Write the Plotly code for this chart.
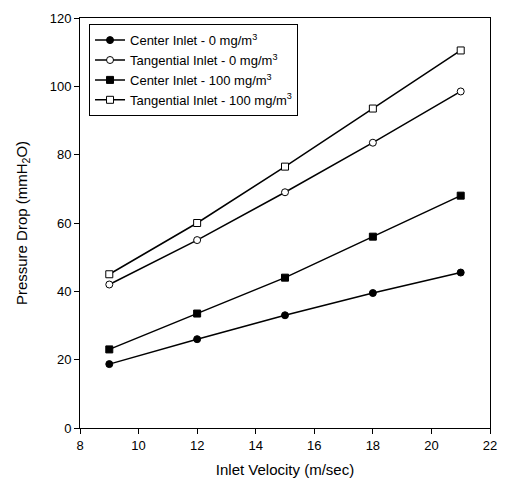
import plotly.graph_objects as go

velocity = [9, 12, 15, 18, 21]
center_0 = [18.7, 26, 33, 39.5, 45.5]
tangential_0 = [42, 55, 69, 83.5, 98.5]
center_100 = [23, 33.5, 44, 56, 68]
tangential_100 = [45, 60, 76.5, 93.5, 110.5]

names = ["Center Inlet - 0 mg/m<sup>3</sup>",
         "Tangential Inlet - 0 mg/m<sup>3</sup>",
         "Center Inlet - 100 mg/m<sup>3</sup>",
         "Tangential Inlet - 100 mg/m<sup>3</sup>"]
series = [center_0, tangential_0, center_100, tangential_100]
symbols = ["circle", "circle", "square", "square"]
fills = ["black", "white", "black", "white"]

fig = go.Figure()
for n, s, sym, fc in zip(names, series, symbols, fills):
    fig.add_trace(go.Scatter(
        x=velocity, y=s, name=n, mode="lines+markers",
        line=dict(color="black", width=1.5),
        marker=dict(symbol=sym, size=7, color=fc,
                    line=dict(color="black", width=1)),
    ))

fig.update_layout(
    width=508, height=493,
    margin=dict(l=80, r=12, t=11, b=65),
    paper_bgcolor="white", plot_bgcolor="white",
    font=dict(family="Liberation Sans, Arial, sans-serif", color="black", size=13),
    showlegend=True,
    legend=dict(x=0.022, y=0.985, xanchor="left", yanchor="top",
                bordercolor="black", borderwidth=1, bgcolor="white",
                font=dict(size=13), tracegroupgap=0, itemwidth=30),
    xaxis=dict(range=[8, 22], tickvals=[8, 10, 12, 14, 16, 18, 20, 22],
               ticks="outside", ticklen=5, tickcolor="black",
               showline=True, linecolor="black", linewidth=1, mirror=True,
               showgrid=False, zeroline=False,
               title=dict(text="Inlet Velocity (m/sec)", font=dict(size=15), standoff=12)),
    yaxis=dict(range=[0, 120], tickvals=[0, 20, 40, 60, 80, 100, 120],
               ticks="outside", ticklen=5, tickcolor="black",
               showline=True, linecolor="black", linewidth=1, mirror=True,
               showgrid=False, zeroline=False,
               title=dict(text="Pressure Drop (mmH<sub>2</sub>O)", font=dict(size=15), standoff=18)),
)

fig.write_html("out.html")
